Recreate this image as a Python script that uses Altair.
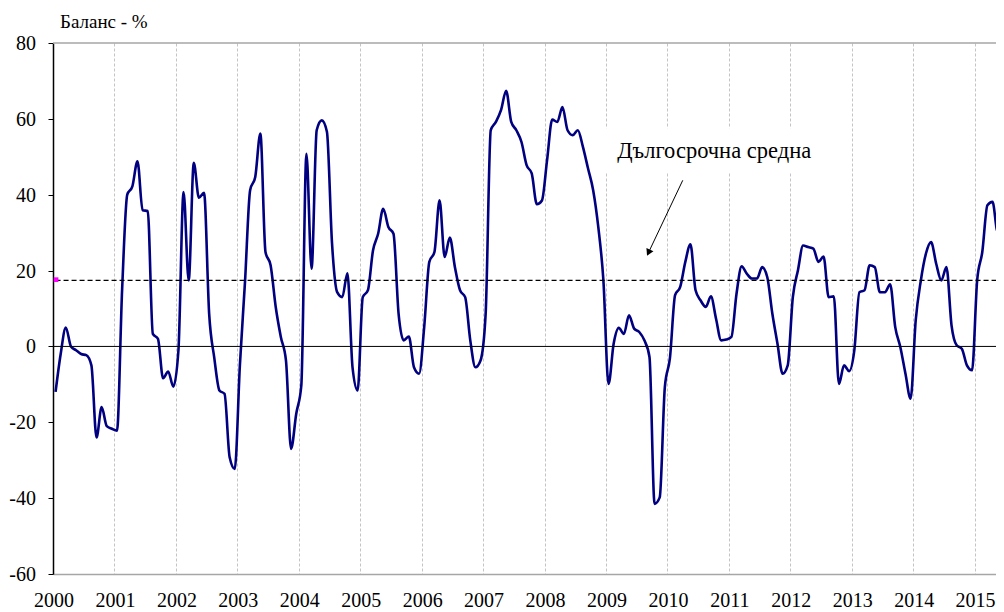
import altair as alt
import pandas as pd

# ---- data (monthly balance, %, starting January 2000) ----
START_YEAR = 2000
balance = [
    -12, -2, 5, 0, -1, -2, -2.3, -5, -24, -16, -21, -21.7,            # 2000
    -22.2, 15, 40, 42.2, 48.8, 35.9, 35.7, 3.3, 2, -8.4, -6.6, -10.6,  # 2001
    -1, 40.7, 17.4, 48.4, 39.2, 40.5, 8.6, -3, -11.6, -12.5, -29.2, -32.3,  # 2002
    -5, 17, 41.2, 44.7, 56.1, 24.9, 21.4, 10.4, 2.5, -3.7, -27, -17.8,  # 2003
    -10.3, 50.8, 20.5, 57, 59.6, 56.6, 27.1, 14.3, 13, 19.3, -5.5, -11.6,  # 2004
    13, 14.8, 25.3, 29.7, 36.3, 31.5, 29.7, 8.6, 1.6, 2.6, -5.5, -7.2,  # 2005
    5.1, 22.3, 24.9, 38.5, 23.6, 28.7, 20.9, 14.8, 13, 1.6, -5.5, -3.7,  # 2006
    8.6, 57, 59.2, 62.3, 67.4, 59.2, 57, 53.9, 47.8, 45.6, 37.5, 38.5,  # 2007
    49.1, 59.8, 59.2, 63.1, 57, 55.7, 57, 52.6, 46.9, 41.2, 31.5, 17.4,  # 2008
    -9.9, 0.7, 4.9, 3.3, 8.2, 4.7, 3.8, 1.6, -2.8, -41.5, -39.8, -10.7,  # 2009
    -3, 13.5, 15.7, 22.3, 26.9, 14.8, 12.1, 10.4, 13.2, 7.3, 1.6, 1.8,  # 2010
    2.5, 13.9, 21.1, 19.2, 17.9, 17.9, 20.9, 18.3, 8.6, 0.7, -7.2, -5,  # 2011
    13, 20.1, 26.6, 26.2, 25.8, 22.3, 23.7, 13, 13.2, -9.9, -5, -6.5,  # 2012
    -1.1, 14.3, 14.8, 21.4, 20.9, 14.3, 14.3, 16.4, 5.1, -0.2, -7.2, -13.8,  # 2013
    6.9, 17.4, 24.5, 27.5, 21.8, 17.4, 20.9, 5.5, 0.3, -0.6, -5, -6.3,  # 2014
    17.4, 24.9, 37.2, 38.1, 30.2, 31.5, 25,                           # 2015
]
long_term_average = 17.4
year_labels = list(range(2000, 2016))
y_ticks = [-60, -40, -20, 0, 20, 40, 60, 80]
y_title = "Баланс - %"
note_text = "Дългосрочна средна"

# annotation anchors (x in fractional years, y in balance %)
note_pos = {"t": 2009.183, "v": 49.8}
note_box = {"t": 2008.95, "t2": 2012.583, "v": 57.5, "v2": 45.9}
arrow_from = {"t": 2010.25, "v": 43.8}
arrow_to = {"t": 2009.70, "v": 25.0}
avg_marker = {"t": 2000.05, "v": 17.6}

# ---- layout ----
W, H = 943, 531
PX_PER_YEAR = 5.12 * 12
X_END = START_YEAR + W / PX_PER_YEAR
Y_MIN, Y_MAX = -60, 80
FONT = "Liberation Serif"

times = [START_YEAR + (i + 0.5) / 12 for i in range(len(balance))]
df = pd.DataFrame({"t": times, "v": balance})

xs = alt.Scale(domain=[START_YEAR, X_END], nice=False, zero=False)
ys = alt.Scale(domain=[Y_MIN, Y_MAX], nice=False, zero=False)

X = lambda f="t": alt.X(f"{f}:Q", scale=xs)
Y = lambda f="v": alt.Y(f"{f}:Q", scale=ys)

line = alt.Chart(df).mark_line(
    color="#000080", strokeWidth=2.6, interpolate="monotone", clip=True
).encode(
    x=alt.X("t:Q", scale=xs, title=None,
            axis=alt.Axis(values=year_labels, grid=True, ticks=False, labels=False)),
    y=alt.Y("v:Q", scale=ys, title=None,
            axis=alt.Axis(values=y_ticks, grid=False, labels=False)),
)

# tick labels as text marks (hyphen-minus, serif font)
xlab_df = pd.DataFrame({"t": year_labels, "v": [Y_MIN] * len(year_labels),
                        "label": [str(y) for y in year_labels]})
x_labels = alt.Chart(xlab_df).mark_text(
    font=FONT, fontSize=20, align="center", baseline="alphabetic", dy=33, dx=1,
    color="black",
).encode(x=X(), y=Y(), text="label:N")

ylab_df = pd.DataFrame({"t": [START_YEAR] * len(y_ticks), "v": y_ticks,
                        "label": [str(v) for v in y_ticks]})
y_labels = alt.Chart(ylab_df).mark_text(
    font=FONT, fontSize=20, align="right", baseline="middle", dx=-17, dy=1,
    color="black",
).encode(x=X(), y=Y(), text="label:N")

ytitle = alt.Chart(pd.DataFrame([{"t": START_YEAR, "v": Y_MAX, "label": y_title}])).mark_text(
    font=FONT, fontSize=19, align="left", baseline="alphabetic", dx=7, dy=-15,
    color="black",
).encode(x=X(), y=Y(), text="label:N")

box = alt.Chart(pd.DataFrame([note_box])).mark_rect(color="white").encode(
    x=X(), x2="t2:Q", y=Y(), y2="v2:Q",
)

top_border = alt.Chart(pd.DataFrame({"v": [Y_MAX]})).mark_rule(
    color="#a6a6a6", strokeWidth=1.5
).encode(y=Y())

zero_line = alt.Chart(pd.DataFrame({"v": [0]})).mark_rule(
    color="black", strokeWidth=1
).encode(y=Y())

avg_line = alt.Chart(
    pd.DataFrame({"t": [START_YEAR + 0.5 / 12], "t2": [X_END], "v": [long_term_average]})
).mark_rule(color="black", strokeWidth=1.2, strokeDash=[5, 3]).encode(
    x=X(), x2="t2:Q", y=Y(),
)

marker = alt.Chart(pd.DataFrame([avg_marker])).mark_square(
    color="#ff00ff", size=22, opacity=1
).encode(x=X(), y=Y())

note = alt.Chart(pd.DataFrame([{**note_pos, "label": note_text}])).mark_text(
    font=FONT, fontSize=22.5, align="left", baseline="alphabetic", color="black"
).encode(x=X(), y=Y(), text="label:N")

arrow_shaft = alt.Chart(
    pd.DataFrame([{"t": arrow_from["t"], "v": arrow_from["v"],
                   "t2": arrow_to["t"], "v2": arrow_to["v"]}])
).mark_rule(color="black", strokeWidth=1).encode(
    x=X(), x2="t2:Q", y=Y(), y2="v2:Q",
)

arrow_head = alt.Chart(pd.DataFrame([arrow_to])).mark_point(
    shape="triangle", filled=True, color="black", size=60, angle=205.6, opacity=1
).encode(x=X(), y=Y())

chart = alt.layer(
    line, box, top_border, zero_line, avg_line, marker, note, arrow_shaft, arrow_head,
    x_labels, y_labels, ytitle,
).properties(
    width=W, height=H,
    autosize=alt.AutoSizeParams(type="none"),
    padding={"left": 45, "top": 35, "right": 0, "bottom": 38},
    background="white",
).configure_view(
    stroke=None
).configure_axisX(
    gridColor="#c4c4c4", gridDash=[3, 2], gridWidth=1,
    domainColor="#a6a6a6", domainWidth=1.5,
).configure_axisY(
    tickSize=5, tickColor="black", tickWidth=1,
    domainColor="black", domainWidth=1.5,
)

chart.save("out.html", embed_options={"renderer": "svg", "actions": False})
